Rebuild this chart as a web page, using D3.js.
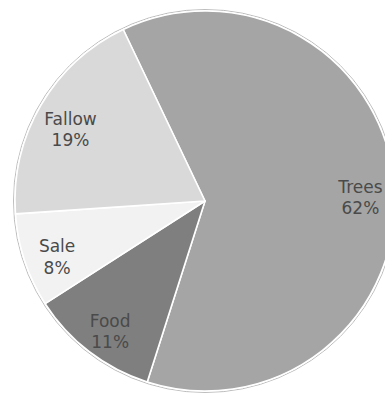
<!DOCTYPE html>
<html>
<head>
<meta charset="utf-8">
<script src="https://cdn.jsdelivr.net/npm/d3@7"></script>
<style>
  html, body { margin: 0; padding: 0; background: #fff; }
  svg { display: block; }
</style>
</head>
<body>
<svg id="chart" width="385" height="394"></svg>
<script>
// Land use shares, drawn clockwise from just left of 12 o'clock
const categories = ["Trees", "Food", "Sale", "Fallow"];
const shares = [62, 11, 8, 19];
const sliceColors = ["#a5a5a5", "#7f7f7f", "#f2f2f2", "#d9d9d9"];

const width = 385, height = 394;
const cx = 205, cy = 201, radius = 190;
const startDeg = -25.5;

const svg = d3.select("#chart");
const g = svg.append("g").attr("transform", `translate(${cx},${cy})`);

const data = categories.map((name, i) => ({ name, value: shares[i], color: sliceColors[i] }));

const pie = d3.pie()
  .value(d => d.value)
  .sort(null)
  .startAngle(startDeg * Math.PI / 180)
  .endAngle((startDeg + 360) * Math.PI / 180);

const arc = d3.arc().innerRadius(0).outerRadius(radius);
const labelArc = d3.arc().innerRadius(radius * 0.82).outerRadius(radius * 0.82);

const arcs = pie(data);

// faint rim around the disc
g.append("circle")
  .attr("r", radius + 1.5)
  .attr("fill", "none")
  .attr("stroke", "#bdbdbd")
  .attr("stroke-width", 1);

g.selectAll("path.slice")
  .data(arcs)
  .join("path")
  .attr("class", "slice")
  .attr("d", arc)
  .attr("fill", d => d.data.color)
  .attr("stroke", "#ffffff")
  .attr("stroke-width", 1.6)
  .attr("stroke-linejoin", "round");

const labels = g.selectAll("text.label")
  .data(arcs)
  .join("text")
  .attr("class", "label")
  .attr("transform", d => `translate(${labelArc.centroid(d)})`)
  .attr("text-anchor", "middle")
  .attr("font-family", "'Century Gothic', 'URW Gothic', 'DejaVu Sans', sans-serif")
  .attr("font-size", 17)
  .attr("fill", "#4a4a4a");

labels.append("tspan")
  .attr("x", 0)
  .attr("dy", "0.15em")
  .text(d => d.data.name);

labels.append("tspan")
  .attr("x", 0)
  .attr("dy", "1.25em")
  .text(d => d.data.value + "%");
</script>
</body>
</html>
